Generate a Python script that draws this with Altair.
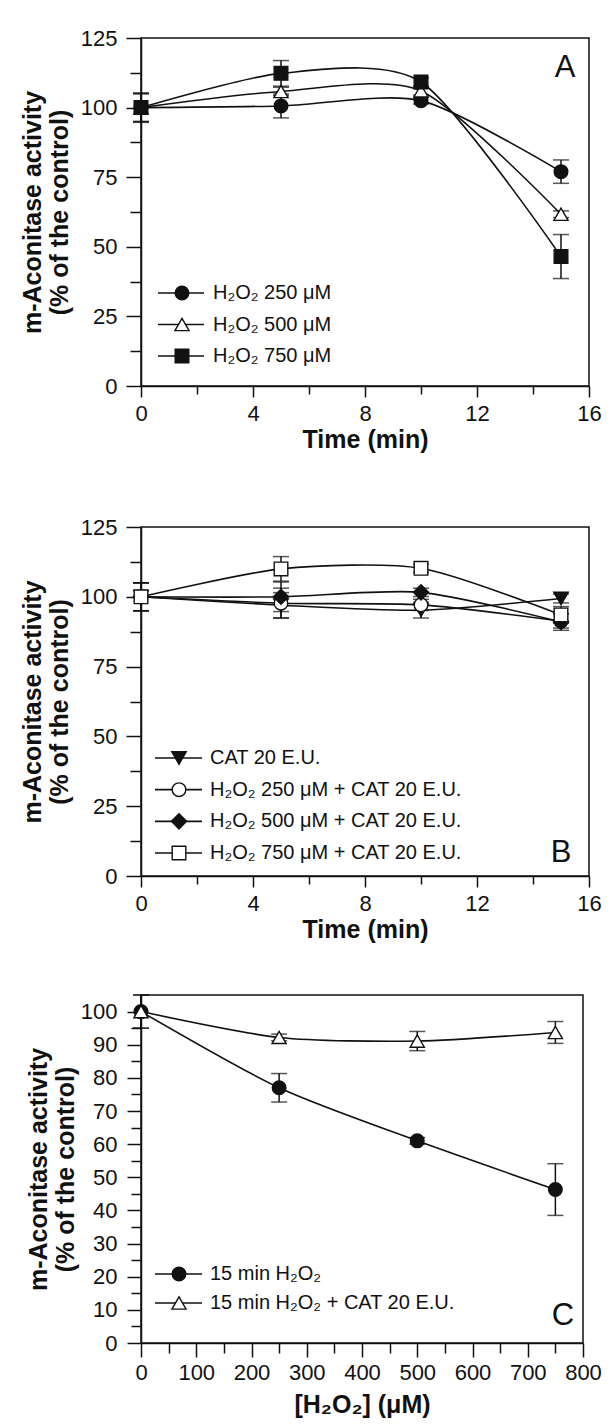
import altair as alt
import pandas as pd

# ---------------- Panel A : time course, H2O2 alone ----------------
time_a = [0, 5, 10, 15]
a_labels = ["H₂O₂ 250 μM", "H₂O₂ 500 μM", "H₂O₂ 750 μM"]
a_250 = [100, 100.6, 102.5, 77.0]
a_250_err = [5.0, 4.3, 1.2, 4.2]
a_500 = [100, 105.8, 106.0, 61.7]
a_500_err = [5.0, 1.5, 1.5, 1.2]
a_750 = [100, 112.3, 109.2, 46.5]
a_750_err = [5.3, 4.6, 1.5, 7.9]
a_shapes = ["circle", "triangle-up", "square"]
a_fills = ["#111111", "white", "#111111"]

# ---------------- Panel B : time course, H2O2 + catalase ----------------
time_b = [0, 5, 10, 15]
b_labels = ["CAT 20 E.U.", "H₂O₂ 250 μM + CAT 20 E.U.",
            "H₂O₂ 500 μM + CAT 20 E.U.", "H₂O₂ 750 μM + CAT 20 E.U."]
b_cat = [100, 97.0, 95.2, 99.4]
b_cat_err = [5.0, 4.5, 2.8, 1.6]
b_250 = [100, 97.7, 97.1, 91.3]
b_250_err = [5.0, 5.4, 2.0, 2.5]
b_500 = [100, 100.0, 101.6, 91.0]
b_500_err = [5.0, 5.3, 1.5, 3.0]
b_750 = [100, 110.0, 110.2, 93.5]
b_750_err = [5.0, 4.4, 1.5, 3.0]
b_shapes = ["triangle-down", "circle", "diamond", "square"]
b_fills = ["#111111", "white", "#111111", "white"]

# ---------------- Panel C : dose response at 15 min ----------------
conc_c = [0, 250, 500, 750]
c_labels = ["15 min H₂O₂", "15 min H₂O₂ + CAT 20 E.U."]
c_h2o2 = [100, 77.0, 61.0, 46.3]
c_h2o2_err = [5.0, 4.3, 1.0, 7.8]
c_cat = [100, 92.2, 91.1, 93.7]
c_cat_err = [5.0, 1.0, 2.9, 3.3]
c_shapes = ["circle", "triangle-up"]
c_fills = ["#111111", "white"]

SIZES = {"circle": 185, "square": 185, "triangle-up": 200,
         "triangle-down": 210, "diamond": 230}

INK = "#111111"
FONT = "Liberation Sans"
Y_TITLE = ["m-Aconitase activity", "(% of the control)"]


def long_frame(xs, series_vals, series_errs, labels, shapes, fills):
    rows = []
    for lab, vals, errs, shp, fil in zip(labels, series_vals, series_errs, shapes, fills):
        for x, v, e in zip(xs, vals, errs):
            rows.append({"x": x, "y": v, "lo": v - e, "hi": v + e,
                         "series": lab, "shape": shp, "fill": fil,
                         "size": SIZES[shp]})
    return pd.DataFrame(rows)


def legend_frame(labels, shapes, fills):
    return pd.DataFrame({"label": labels, "shape": shapes, "fill": fills,
                         "idx": list(range(len(labels))),
                         "size": [SIZES[s] for s in shapes]})


def panel(df, leg, letter, xdom, xvals, xmajor, xtitle, ydom, yvals, ymajor,
          w, h, leg_y0, leg_y1, leg_x, letter_xy, xtick=(11, 8), ytick=(15, 11),
          xlabpad=6, xtitlepad=3, ylabpad=9, ytitlepad=8):
    xaxis = alt.Axis(values=xvals, format="d", labelFlush=False, labelOverlap=False,
                     labelExpr=f"datum.value % {xmajor} == 0 ? datum.label : ''",
                     tickSize={"condition": {"test": f"datum.value % {xmajor} == 0",
                                             "value": xtick[0]}, "value": xtick[1]},
                     labelPadding=xlabpad, titlePadding=xtitlepad)
    yaxis = alt.Axis(values=yvals, format="d", labelFlush=False, labelOverlap=False,
                     labelExpr=f"datum.value % {ymajor} == 0 ? datum.label : ''",
                     tickSize={"condition": {"test": f"datum.value % {ymajor} == 0",
                                             "value": ytick[0]}, "value": ytick[1]},
                     labelPadding=ylabpad, titlePadding=ytitlepad, titleLineHeight=27)
    xs = alt.Scale(domain=xdom, nice=False, zero=False)
    ys = alt.Scale(domain=ydom, nice=False, zero=False)

    def X():
        return alt.X("x:Q", scale=xs, axis=xaxis, title=xtitle)

    def Y(f):
        return alt.Y(f"{f}:Q", scale=ys, axis=yaxis, title=Y_TITLE)

    base = alt.Chart(df)
    lines = base.mark_line(interpolate="cardinal", tension=0.25, strokeWidth=1.6,
                           color=INK).encode(x=X(), y=Y("y"), detail="series:N")
    bars = base.mark_rule(strokeWidth=1.5, color=INK).encode(
        x=X(), y=Y("lo"), y2="hi:Q")
    cap_hi = base.mark_tick(orient="horizontal", size=16, thickness=1.5,
                            color=INK).encode(x=X(), y=Y("hi"))
    cap_lo = base.mark_tick(orient="horizontal", size=16, thickness=1.5,
                            color=INK).encode(x=X(), y=Y("lo"))
    pts = base.mark_point(filled=True, opacity=1, stroke=INK, strokeWidth=1.4).encode(
        x=X(), y=Y("y"),
        shape=alt.Shape("shape:N", scale=None),
        fill=alt.Fill("fill:N", scale=None),
        size=alt.Size("size:Q", scale=None))
    main = alt.layer(lines, bars, cap_hi, cap_lo, pts)

    n = len(leg)
    ly = alt.Y("idx:Q", scale=alt.Scale(domain=[0, n - 1], range=[leg_y0, leg_y1],
                                        nice=False, zero=False), axis=None)
    lbase = alt.Chart(leg)
    lrule = lbase.mark_rule(strokeWidth=1.6, color=INK).encode(
        x=alt.value(leg_x[0]), x2=alt.value(leg_x[1]), y=ly)
    lpt = lbase.mark_point(filled=True, opacity=1, stroke=INK, strokeWidth=1.4).encode(
        x=alt.value(leg_x[2]), y=ly,
        shape=alt.Shape("shape:N", scale=None),
        fill=alt.Fill("fill:N", scale=None),
        size=alt.Size("size:Q", scale=None))
    ltxt = lbase.mark_text(align="left", baseline="middle", font=FONT, fontSize=20,
                           color=INK).encode(x=alt.value(leg_x[3]), y=ly, text="label:N")
    legend = alt.layer(lrule, lpt, ltxt)

    let = alt.Chart(pd.DataFrame({"t": [letter]})).mark_text(
        font=FONT, fontSize=31, color=INK, align="center", baseline="middle").encode(
        x=alt.value(letter_xy[0]), y=alt.value(letter_xy[1]), text="t:N")

    return alt.layer(main, legend, let).resolve_scale(y="independent").properties(
        width=w, height=h)


df_a = long_frame(time_a, [a_250, a_500, a_750], [a_250_err, a_500_err, a_750_err],
                  a_labels, a_shapes, a_fills)
df_b = long_frame(time_b, [b_cat, b_250, b_500, b_750],
                  [b_cat_err, b_250_err, b_500_err, b_750_err],
                  b_labels, b_shapes, b_fills)
df_c = long_frame(conc_c, [c_h2o2, c_cat], [c_h2o2_err, c_cat_err],
                  c_labels, c_shapes, c_fills)

t_vals = [0, 2, 4, 6, 8, 10, 12, 14, 16]
y125_vals = [i * 12.5 for i in range(11)]
c_xvals = list(range(0, 801, 50))
c_yvals = list(range(0, 101, 5))

pA = panel(df_a, legend_frame(a_labels, a_shapes, a_fills), "A",
           [0, 16], t_vals, 4, "Time (min)", [0, 125], y125_vals, 25,
           448, 348, 255, 318, (17, 63, 41, 72), (424, 30))
pB = panel(df_b, legend_frame(b_labels, b_shapes, b_fills), "B",
           [0, 16], t_vals, 4, "Time (min)", [0, 125], y125_vals, 25,
           448, 349, 231, 326, (14, 61, 38, 69), (420, 326))
pC = panel(df_c, legend_frame(c_labels, c_shapes, c_fills), "C",
           [0, 800], c_xvals, 100, "[H₂O₂] (μM)", [0, 105], c_yvals, 10,
           442, 348, 279, 308, (14, 61, 38, 69), (422, 321),
           xtick=(14, 10), ytick=(14, 10), xlabpad=5, xtitlepad=9,
           ylabpad=10, ytitlepad=2)

top = alt.vconcat(pA, pB, spacing=62)
chart = alt.vconcat(top, pC, spacing=50).properties(
    padding={"top": 18, "left": 11, "right": 0, "bottom": 0},
    background="white"
).configure_view(stroke=INK, strokeWidth=1.5).configure_axis(
    grid=False, domainColor=INK, domainWidth=1.5, tickColor=INK, tickWidth=1.5,
    labelFont=FONT, labelFontSize=22, labelColor=INK,
    titleFont=FONT, titleFontSize=25, titleFontWeight="bold", titleColor=INK
)

chart.save("out.html", embed_options={"renderer": "svg", "actions": False})
